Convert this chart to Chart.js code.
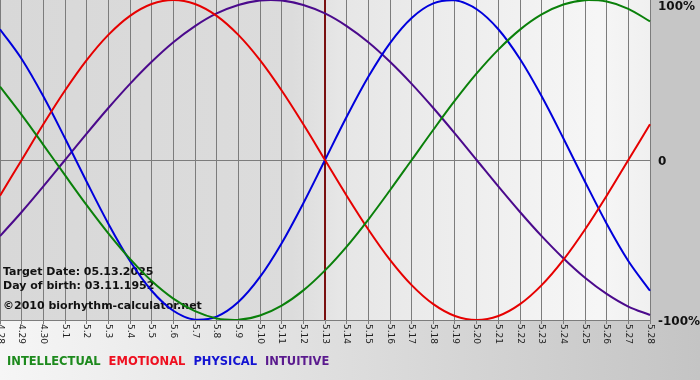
<!DOCTYPE html>
<html>
<head>
<meta charset="utf-8">
<title>Biorhythm</title>
<script src="https://cdn.jsdelivr.net/npm/chart.js@4/dist/chart.umd.min.js"></script>
<style>
    html, body { margin: 0; padding: 0; background: #ffffff; }
    #wrap { width: 700px; height: 380px; }
</style>
</head>
<body>
<div id="wrap"><canvas id="bioChart" width="700" height="380"></canvas></div>
<script>
// Days shown on the x axis (month.day)
const dayLabels = ['4.28', '4.29', '4.30', '5.1', '5.2', '5.3', '5.4', '5.5', '5.6', '5.7', '5.8', '5.9', '5.10',
    '5.11', '5.12', '5.13', '5.14', '5.15', '5.16', '5.17', '5.18', '5.19', '5.20', '5.21', '5.22', '5.23',
    '5.24', '5.25', '5.26', '5.27', '5.28'];
const targetDay = '5.13';

// Cycle values in percent, one per day
const intellectual = [45.8, 28.2, 9.5, -9.5, -28.2, -45.8, -61.8, -75.6, -86.6, -94.5, -99.0, -99.9, -97.2,
    -91.0, -81.5, -69.0, -54.1, -37.2, -18.9, 0, 18.9, 37.2, 54.1, 69.0, 81.5, 91.0, 97.2, 99.9, 99.0, 94.5, 86.6];
const emotional = [-22.3, 0, 22.3, 43.4, 62.4, 78.2, 90.1, 97.5, 100, 97.5, 90.1, 78.2, 62.4, 43.4, 22.3, 0,
    -22.3, -43.4, -62.4, -78.2, -90.1, -97.5, -100, -97.5, -90.1, -78.2, -62.4, -43.4, -22.3, 0, 22.3];
const physical = [81.7, 63.1, 39.8, 13.6, -13.6, -39.8, -63.1, -81.7, -94.2, -99.8, -97.9, -88.8, -73.1, -52.0,
    -27.0, 0, 27.0, 52.0, 73.1, 88.8, 97.9, 99.8, 94.2, 81.7, 63.1, 39.8, 13.6, -13.6, -39.8, -63.1, -81.7];
const intuitive = [-47.6, -32.5, -16.5, 0, 16.5, 32.5, 47.6, 61.4, 73.6, 83.7, 91.6, 96.9, 99.7, 99.7, 96.9,
    91.6, 83.7, 73.6, 61.4, 47.6, 32.5, 16.5, 0, -16.5, -32.5, -47.6, -61.4, -73.6, -83.7, -91.6, -96.9];

const seriesNames = ['INTELLECTUAL', 'EMOTIONAL', 'PHYSICAL', 'INTUITIVE'];
const seriesColors = ['#0a800a', '#e60000', '#0000dc', '#4b0a8c'];
const legendColors = ['#1d8a1d', '#ee1020', '#1414d2', '#5a1a8e'];
const yTickValues = [100, 0, -100];
const yTickText = ['100%', '0', '-100%'];
const infoLines = ['Target Date: 05.13.2025', 'Day of birth: 03.11.1952', '\u00a92010 biorhythm-calculator.net'];

const FONT = '"DejaVu Sans", Verdana, sans-serif';

// backgrounds: page, right strip, plot area
const backgroundPlugin = {
    id: 'bioBackground',
    beforeDraw(chart) {
        const { ctx, chartArea: a, width, height } = chart;
        ctx.save();
        let g = ctx.createLinearGradient(0, 0, width, 0);
        g.addColorStop(0, '#f6f6f6');
        g.addColorStop(1, '#c4c4c4');
        ctx.fillStyle = g;
        ctx.fillRect(0, 0, width, height);
        ctx.fillStyle = '#c6c6c6';
        ctx.fillRect(a.right, 0, width - a.right, a.bottom);
        g = ctx.createLinearGradient(a.left, 0, a.right, 0);
        g.addColorStop(0, '#d8d8d8');
        g.addColorStop(0.45, '#dcdcdc');
        g.addColorStop(0.52, '#e6e6e6');
        g.addColorStop(0.92, '#f6f6f6');
        g.addColorStop(1, '#f0f0f0');
        ctx.fillStyle = g;
        ctx.fillRect(a.left, a.top, a.right - a.left, a.bottom - a.top);
        ctx.restore();
    }
};

// target date line + info text, under the curves
const infoPlugin = {
    id: 'bioInfo',
    beforeDatasetsDraw(chart) {
        const { ctx, chartArea: a } = chart;
        const x = chart.scales.x.getPixelForValue(dayLabels.indexOf(targetDay));
        ctx.save();
        ctx.strokeStyle = '#7a1010';
        ctx.lineWidth = 2;
        ctx.beginPath();
        ctx.moveTo(x, a.top);
        ctx.lineTo(x, a.bottom);
        ctx.stroke();

        ctx.fillStyle = '#111';
        ctx.font = 'bold 11px ' + FONT;
        ctx.textBaseline = 'middle';
        ctx.textAlign = 'left';
        ctx.fillText(infoLines[0], 3, 272);
        ctx.fillText(infoLines[1], 3, 286);
        ctx.fillText(infoLines[2], 3, 306);
        ctx.restore();
    }
};

// axis labels and legend
const labelsPlugin = {
    id: 'bioLabels',
    afterDraw(chart) {
        const { ctx, chartArea: a } = chart;
        const xs = chart.scales.x;
        const ys = chart.scales.y;
        ctx.save();

        // day labels, turned clockwise
        ctx.fillStyle = '#222';
        ctx.font = '9px ' + FONT;
        ctx.textAlign = 'left';
        ctx.textBaseline = 'middle';
        dayLabels.forEach((lbl, i) => {
            const x = xs.getPixelForTick(i);
            ctx.save();
            ctx.translate(x, a.bottom + 4);
            ctx.rotate(Math.PI / 2);
            ctx.fillText(lbl, 0, 0);
            ctx.restore();
        });

        // percent labels on the right
        ctx.fillStyle = '#111';
        ctx.font = 'bold 12px ' + FONT;
        yTickValues.forEach((v, i) => {
            let y = ys.getPixelForValue(v);
            if (v === 100) y += 7;
            else y += 2;
            ctx.fillText(yTickText[i], a.right + 8, y);
        });

        // legend
        ctx.font = 'bold 11.5px ' + FONT;
        let lx = 7;
        seriesNames.forEach((name, i) => {
            ctx.fillStyle = legendColors[i];
            ctx.fillText(name, lx, 362);
            lx += ctx.measureText(name).width + 8;
        });
        ctx.restore();
    }
};

const seriesData = [intellectual, emotional, physical, intuitive];

new Chart(document.getElementById('bioChart').getContext('2d'), {
    type: 'line',
    data: {
        labels: dayLabels,
        datasets: seriesNames.map((name, i) => ({
            label: name,
            data: seriesData[i],
            borderColor: seriesColors[i],
            borderWidth: 2,
            pointRadius: 0,
            tension: 0.34,
            fill: false
        }))
    },
    options: {
        responsive: false,
        animation: false,
        layout: { padding: 0 },
        plugins: {
            legend: { display: false },
            tooltip: { enabled: false }
        },
        scales: {
            x: {
                ticks: { display: false },
                grid: { color: '#7c7c7c', lineWidth: 1, tickLength: 4 },
                border: { color: '#7c7c7c' },
                afterFit: (scale) => { scale.height = 60; }
            },
            y: {
                position: 'right',
                min: -100,
                max: 100,
                ticks: { display: false, stepSize: 100 },
                grid: {
                    drawTicks: false,
                    color: (c) => (c.tick && c.tick.value === 0 ? '#7c7c7c' : 'rgba(0,0,0,0)')
                },
                border: { display: false },
                afterFit: (scale) => { scale.width = 50; }
            }
        }
    },
    plugins: [backgroundPlugin, infoPlugin, labelsPlugin]
});
</script>
</body>
</html>
